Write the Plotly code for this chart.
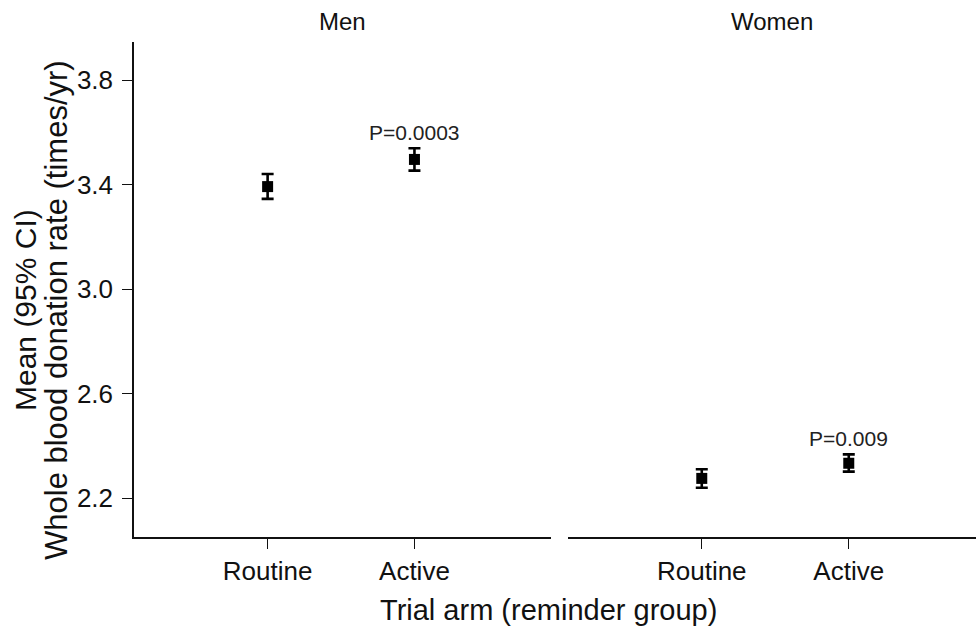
import plotly.graph_objects as go

# Whole blood donation rate by trial arm, split by sex
arms = ["Routine", "Active"]
arm_pos = [1, 2]

men_mean = [3.392, 3.496]
men_lo = [3.345, 3.453]
men_hi = [3.440, 3.539]

women_mean = [2.275, 2.333]
women_lo = [2.239, 2.301]
women_hi = [2.310, 2.367]

p_labels = ["P=0.0003", "P=0.009"]

y_ticks = [2.2, 2.6, 3.0, 3.4, 3.8]

FONT = "Liberation Sans, Arial, sans-serif"
INK = "#111111"

W, H = 976, 635
ML, MR, MT, MB = 134, 0, 42, 98
PW = W - ML - MR
PH = H - MT - MB

left_dom = [0, (551 - ML) / PW]
right_dom = [(568 - ML) / PW, 1]

fig = go.Figure()


def add_panel(means, lo, hi, xa, ya):
    fig.add_trace(go.Scatter(
        x=arm_pos, y=means, mode="markers",
        marker=dict(symbol="square", size=11, color="black"),
        error_y=dict(type="data", symmetric=False,
                     array=[h - m for h, m in zip(hi, means)],
                     arrayminus=[m - l for m, l in zip(means, lo)],
                     color="black", thickness=2.6, width=6),
        xaxis=xa, yaxis=ya, showlegend=False, hoverinfo="skip",
    ))


add_panel(men_mean, men_lo, men_hi, "x", "y")
add_panel(women_mean, women_lo, women_hi, "x2", "y2")

y_range = [2.0507, 3.9455]
xaxis_common = dict(
    range=[0.09, 2.93], tickvals=arm_pos, ticktext=arms,
    showline=True, linecolor=INK, linewidth=1.5,
    ticks="outside", ticklen=10, tickwidth=1.3, tickcolor=INK,
    showgrid=False, zeroline=False,
    tickfont=dict(family=FONT, size=26, color=INK),
)

fig.update_layout(
    width=W, height=H,
    margin=dict(l=ML, r=MR, t=MT, b=MB),
    paper_bgcolor="white", plot_bgcolor="white",
    xaxis=dict(domain=left_dom, anchor="y", **xaxis_common),
    xaxis2=dict(domain=right_dom, anchor="y2",
                **{**xaxis_common, "range": [0.09, 0.09 + (W - 568) / 147.0]}),
    yaxis=dict(domain=[0, 1], range=y_range, tickvals=y_ticks,
               tickformat=".1f", showline=True, linecolor=INK, linewidth=1.5,
               ticks="outside", ticklen=10, tickwidth=1.3, tickcolor=INK,
               showgrid=False, zeroline=False, ticklabelstandoff=4,
               tickfont=dict(family=FONT, size=26, color=INK)),
    yaxis2=dict(domain=[0, 1], range=y_range, anchor="x2", matches="y",
                showticklabels=False, showline=False, ticks="",
                showgrid=False, zeroline=False),
)

# p-value labels above the Active arm in each panel
for xa, ya, hi, label in [("x", "y", men_hi[1], p_labels[0]),
                          ("x2", "y2", women_hi[1], p_labels[1])]:
    fig.add_annotation(x=arm_pos[1], y=hi, xref=xa, yref=ya, text=label,
                       showarrow=False, yanchor="bottom", yshift=2,
                       font=dict(family=FONT, size=21, color="#222222"))

# panel titles
for dom, name in [(left_dom, "Men"), (right_dom, "Women")]:
    fig.add_annotation(x=(dom[0] + dom[1]) / 2, y=(H - 22 - MB) / PH,
                       xref="paper", yref="paper", text=name, showarrow=False,
                       xanchor="center", yanchor="middle",
                       font=dict(family=FONT, size=24, color=INK))

# axis titles
fig.add_annotation(x=(548 - ML) / PW, y=(H - 610 - MB) / PH,
                   xref="paper", yref="paper", text="Trial arm (reminder group)",
                   showarrow=False, xanchor="center", yanchor="middle",
                   font=dict(family=FONT, size=29, color=INK))
for xc, size, line in [(26, 30, "Mean (95% CI)"),
                       (57, 31, "Whole blood donation rate (times/yr)")]:
    fig.add_annotation(x=(xc - ML) / PW, y=(H - 310 - MB) / PH,
                       xref="paper", yref="paper", text=line,
                       textangle=-90, showarrow=False,
                       xanchor="center", yanchor="middle",
                       font=dict(family=FONT, size=size, color=INK))

fig.write_html("out.html")
